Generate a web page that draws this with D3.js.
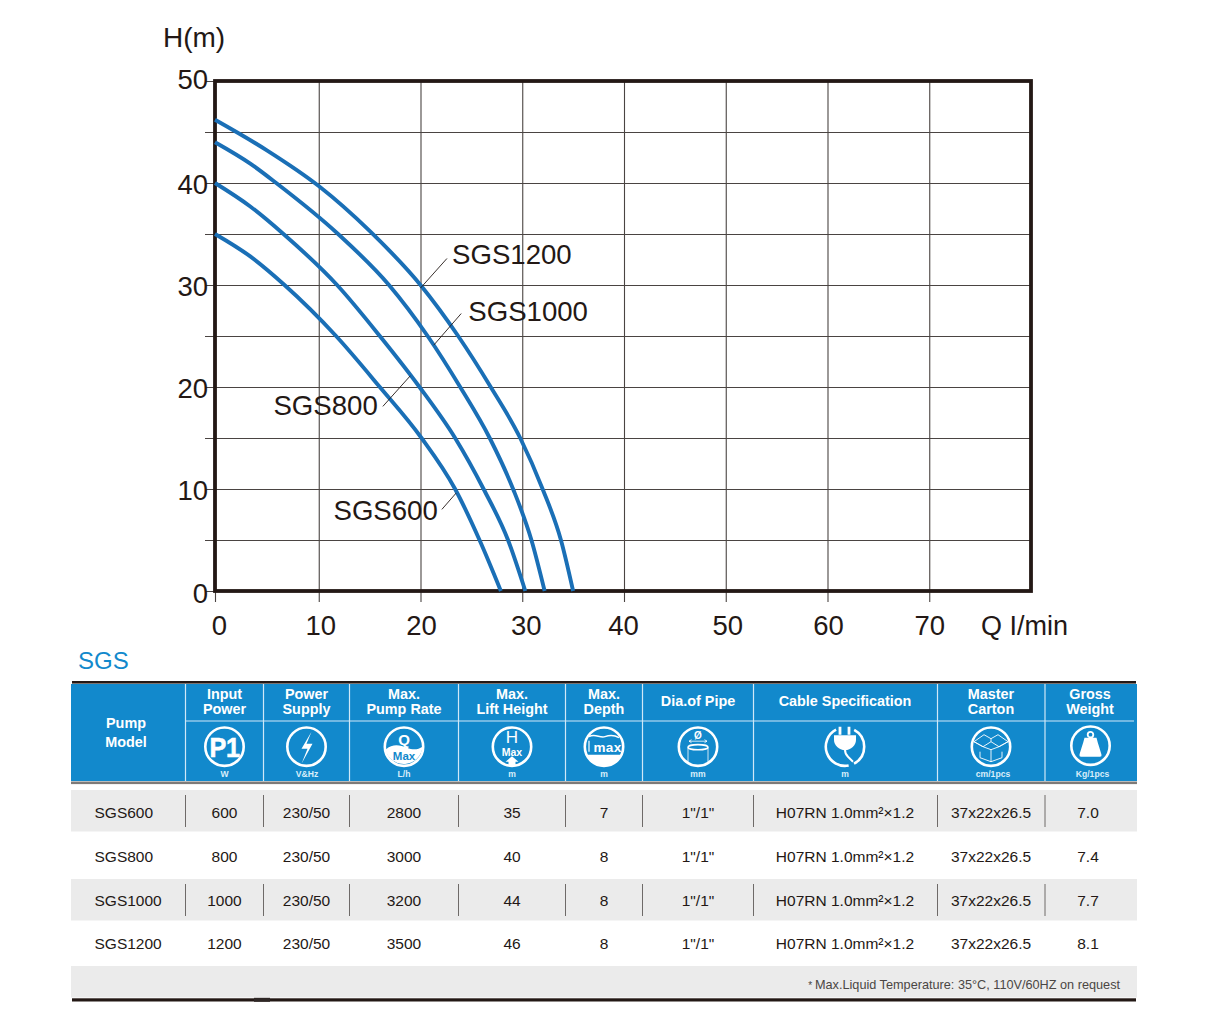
<!DOCTYPE html>
<html>
<head>
<meta charset="utf-8">
<script src="https://cdn.jsdelivr.net/npm/d3@7"></script>
<style>
  html, body { margin: 0; padding: 0; background: #fff; }
  svg { display: block; font-family: "Liberation Sans", Arial, sans-serif; }
</style>
</head>
<body>
<div id="chart"></div>
<script>
// curve readings, Q in l/min and H in m
var q600 = [0, 3.4, 6.7, 11.7, 16.0, 20.1, 23.4, 25.8, 27.9];
var h600 = [35, 32.8, 30, 25, 20, 15, 10, 5, 0];
var q800 = [0, 3.4, 6.6, 11.8, 16.0, 19.9, 23.4, 26.2, 28.6, 30.3];
var h800 = [40, 37.7, 35, 30, 25, 20, 15, 10, 5, 0];
var q1000 = [0, 3.4, 5.9, 11.9, 16.9, 20.7, 23.9, 26.8, 29.1, 30.9, 32.2];
var h1000 = [44, 41.9, 40, 35, 30, 25, 20, 15, 10, 5, 0];
var q1200 = [0, 5, 10, 15, 20, 23.7, 26.9, 29.8, 32.0, 33.8, 35];
var h1200 = [46.2, 43.2, 39.7, 35.3, 30, 25, 20, 15, 10, 5, 0];

var xTicks = [0, 10, 20, 30, 40, 50, 60, 70];
var yTicks = [0, 5, 10, 15, 20, 25, 30, 35, 40, 45, 50];

// curve name labels and their leader lines, in chart units
var curveNames = ["SGS1200", "SGS1000", "SGS800", "SGS600"];
var nameQ = [23.1, 24.7, 15.8, 21.7];
var nameH = [32.1, 26.5, 17.3, 7.0];
var leaderQ = [[20.0, 22.6], [21.3, 24.0], [16.3, 19.0], [22.1, 23.5]];
var leaderH = [[29.7, 32.6], [24.1, 27.2], [18.1, 21.1], [8.0, 9.6]];

// table
var headers = [["Input", "Power"], ["Power", "Supply"], ["Max.", "Pump Rate"], ["Max.", "Lift Height"],
  ["Max.", "Depth"], ["Dia.of Pipe"], ["Cable Specification"], ["Master", "Carton"], ["Gross", "Weight"]];
var units = ["W", "V&Hz", "L/h", "m", "m", "mm", "m", "cm/1pcs", "Kg/1pcs"];
var models = ["SGS600", "SGS800", "SGS1000", "SGS1200"];
var inputPower = ["600", "800", "1000", "1200"];
var powerSupply = ["230/50", "230/50", "230/50", "230/50"];
var pumpRate = ["2800", "3000", "3200", "3500"];
var liftHeight = ["35", "40", "44", "46"];
var maxDepth = ["7", "8", "8", "8"];
var pipeDia = ['1"/1"', '1"/1"', '1"/1"', '1"/1"'];
var cableSpec = ["H07RN 1.0mm²×1.2", "H07RN 1.0mm²×1.2", "H07RN 1.0mm²×1.2", "H07RN 1.0mm²×1.2"];
var carton = ["37x22x26.5", "37x22x26.5", "37x22x26.5", "37x22x26.5"];
var grossWeight = ["7.0", "7.4", "7.7", "8.1"];
var footNote = "Max.Liquid Temperature: 35°C, 110V/60HZ on request";

var wide = 1209;
var high = 1026;
var ink = "#231815";
var blue = "#1289cc";
var curveBlue = "#1a6fb6";

var svg = d3.select("#chart").append("svg").attr("width", wide).attr("height", high);

// ---- chart ----
// the first division of the printed grid is a touch wider than the rest
var xScale = d3.scaleLinear().domain([0, 10, 80]).range([215, 318.75, 1031]);
var yScale = d3.scaleLinear().domain([0, 50]).range([591, 81]);

var xAxis = d3.axisBottom(xScale).tickValues(xTicks).tickSizeOuter(0).tickSizeInner(11).tickFormat(d3.format("d"));
var yAxis = d3.axisLeft(yScale).tickValues(yTicks).tickSizeOuter(0).tickSizeInner(-816)
  .tickFormat(function(d) { return d % 10 === 0 ? d : ""; });

var gx = svg.append("g").attr("class", "xAxis").attr("transform", "translate(0,591)").call(xAxis);
gx.select(".domain").remove();
gx.selectAll("line").attr("y1", -510).attr("stroke", "#4a4442").attr("stroke-width", 1.1);
var xNudge = { 0: 4, 10: 1.5, 20: 0.5, 30: 3.5, 40: -1, 50: 1.5, 60: 0.5, 70: 0 };
gx.selectAll("text")
  .attr("y", 44).attr("dy", 0)
  .attr("dx", function(d) { return xNudge[d]; })
  .attr("font-size", 27.5).attr("font-family", "Liberation Sans").attr("fill", ink);

var gy = svg.append("g").attr("class", "yAxis").attr("transform", "translate(215,0)").call(yAxis);
gy.select(".domain").remove();
gy.selectAll("line").attr("x1", -10).attr("stroke", "#4a4442").attr("stroke-width", 1.1);
gy.selectAll("text")
  .attr("x", -7).attr("dy", 0)
  .attr("y", function(d) { return d === 50 ? 7.5 : (d === 0 ? 11 : 10); })
  .attr("font-size", 27.5).attr("font-family", "Liberation Sans").attr("fill", ink);

svg.append("rect")
  .attr("x", xScale(0)).attr("y", yScale(50))
  .attr("width", xScale(80) - xScale(0)).attr("height", yScale(0) - yScale(50))
  .attr("fill", "none").attr("stroke", ink).attr("stroke-width", 3.8);

var line = d3.line()
  .x(function(d) { return xScale(d[0]); })
  .y(function(d) { return yScale(d[1]); })
  .curve(d3.curveMonotoneX);

[[q600, h600], [q800, h800], [q1000, h1000], [q1200, h1200]].forEach(function(s) {
  svg.append("path")
    .datum(d3.zip(s[0], s[1]))
    .attr("d", line)
    .attr("fill", "none")
    .attr("stroke", curveBlue)
    .attr("stroke-width", 3.9);
});

curveNames.forEach(function(name, i) {
  svg.append("line")
    .attr("x1", xScale(leaderQ[i][0])).attr("y1", yScale(leaderH[i][0]))
    .attr("x2", xScale(leaderQ[i][1])).attr("y2", yScale(leaderH[i][1]))
    .attr("stroke", ink).attr("stroke-width", 0.9);
  svg.append("text")
    .attr("x", xScale(nameQ[i])).attr("y", yScale(nameH[i]))
    .attr("text-anchor", i < 2 ? "start" : "end")
    .attr("font-size", 27.6).attr("fill", ink)
    .text(name);
});

svg.append("text").attr("x", 163).attr("y", 47).attr("font-size", 28).attr("fill", ink).text("H(m)");
svg.append("text").attr("x", 981).attr("y", 635).attr("font-size", 27).attr("fill", ink).text("Q I/min");

// ---- table ----
var colEdges = [71, 185.5, 263.5, 349.5, 458.5, 565.5, 642.5, 753.5, 937.5, 1045, 1137];
var colMid = [224.5, 306.5, 404, 512, 604, 698, 845, 991, 1090];
var unitMid = [224.5, 307, 404, 512, 604, 698, 845, 993, 1092.5];
var valueMid = [224.5, 306.5, 404, 512, 604, 698, 845, 991, 1088];
var rowBase = [818.2, 861.7, 905.7, 948.7];

svg.append("text").attr("x", 78).attr("y", 668.5).attr("font-size", 24).attr("fill", blue).text("SGS");

svg.append("rect").attr("x", 72).attr("y", 681).attr("width", 1064).attr("height", 2.6).attr("fill", ink);
svg.append("rect").attr("x", 71).attr("y", 684).attr("width", 1066).attr("height", 97).attr("fill", blue);
svg.append("rect").attr("x", 71).attr("y", 781.5).attr("width", 1066).attr("height", 2.6).attr("fill", "#7d7a78");

var sep = "#cfe8f7";
svg.selectAll("line.headSep").data(colEdges.slice(1, 10)).enter().append("line")
  .attr("class", "headSep")
  .attr("x1", function(d) { return d; }).attr("x2", function(d) { return d; })
  .attr("y1", 684).attr("y2", 781)
  .attr("stroke", sep).attr("stroke-width", 1.2);
svg.append("line").attr("x1", 185.5).attr("x2", 1134).attr("y1", 721).attr("y2", 721)
  .attr("stroke", sep).attr("stroke-width", 1.2);

var headText = svg.append("g").attr("fill", "#fff").attr("font-weight", "bold").attr("font-size", 14.4).attr("text-anchor", "middle");
headText.append("text").attr("x", 126).attr("y", 727.5).text("Pump");
headText.append("text").attr("x", 126).attr("y", 747).text("Model");
headers.forEach(function(lines, i) {
  lines.forEach(function(t, j) {
    headText.append("text")
      .attr("x", colMid[i])
      .attr("y", lines.length === 1 ? 706.2 : 698.6 + j * 15)
      .text(t);
  });
});

svg.append("g").selectAll("text").data(units).enter().append("text")
  .attr("x", function(d, i) { return unitMid[i]; })
  .attr("y", 776.5)
  .attr("text-anchor", "middle").attr("font-size", 8.6).attr("font-weight", "bold").attr("fill", "#d9eefa")
  .text(function(d) { return d; });

// icons, one group per column, centred on the ring
var iconY = 746.7;
function iconGroup(i) {
  return svg.append("g").attr("transform", "translate(" + colMid[i] + "," + iconY + ")")
    .attr("fill", "#fff").attr("text-anchor", "middle");
}
function ring(g) {
  g.append("circle").attr("r", 19.2).attr("fill", "none").attr("stroke", "#fff").attr("stroke-width", 2.6);
}

var ic = iconGroup(0);
ring(ic);
ic.append("text").attr("y", 10).attr("font-size", 28).attr("font-weight", "bold")
  .attr("transform", "scale(0.9,1)").attr("letter-spacing", -0.5)
  .attr("stroke", "#fff").attr("stroke-width", 0.6).text("P1");

ic = iconGroup(1);
ring(ic);
ic.append("path").attr("d", "M5,-15 L-5,2 L1,2 L-5,17 L6,-3 L0,-3 Z");

ic = iconGroup(2);
ring(ic);
ic.append("path").attr("d", "M-18.5,3 C-11,-3.5 -4,-1.5 3,1 C9,3.5 14,3 18.5,0 A18.8,18.8 0 0 1 -18.5,3 Z");
ic.append("text").attr("y", -2).attr("font-size", 15).attr("font-weight", "bold").text("Q");
ic.append("text").attr("y", 13.5).attr("font-size", 11.5).attr("font-weight", "bold").attr("fill", blue).text("Max");

ic = iconGroup(3);
ring(ic);
ic.append("text").attr("y", -3.5).attr("font-size", 17).text("H");
ic.append("text").attr("y", 9).attr("font-size", 10.5).attr("font-weight", "bold").text("Max");
ic.append("path").attr("d", "M0,9.5 L6.5,15 L3.5,15 L3.5,19 L-3.5,19 L-3.5,15 L-6.5,15 Z");

ic = iconGroup(4);
ring(ic);
ic.append("path").attr("d", "M-17,8 L17,8 A19,19 0 0 1 -17,8 Z");
ic.append("path").attr("d", "M-15,-10 C-9,-14 -4,-8 1,-10 C6,-12 10,-12 15,-9")
  .attr("fill", "none").attr("stroke", "#fff").attr("stroke-width", 1.4);
ic.append("path").attr("d", "M-15,-6 V5").attr("stroke", "#fff").attr("stroke-width", 1.2);
ic.append("text").attr("x", 3.5).attr("y", 5).attr("font-size", 13.5).attr("font-weight", "bold").attr("letter-spacing", 0.3).text("max");

ic = iconGroup(5);
ring(ic);
ic.append("text").attr("y", -7.5).attr("font-size", 10).attr("font-weight", "bold").text("Ø");
ic.append("path").attr("d", "M-9,-5.5 H9 M-9,-5.5 l2.5,-1.5 M-9,-5.5 l2.5,1.5 M9,-5.5 l-2.5,-1.5 M9,-5.5 l-2.5,1.5")
  .attr("stroke", "#fff").attr("stroke-width", 0.8).attr("fill", "none");
ic.append("ellipse").attr("cy", 0.5).attr("rx", 10).attr("ry", 2.6)
  .attr("fill", "none").attr("stroke", "#fff").attr("stroke-width", 1.6);
ic.append("path").attr("d", "M-10,1 V17 M10,1 V17").attr("stroke", "#fff").attr("stroke-width", 0.8).attr("fill", "none");

ic = iconGroup(6);
ic.append("path")
  .attr("d", d3.arc().innerRadius(17.9).outerRadius(20.5).startAngle(0.5).endAngle(2.65)());
ic.append("path")
  .attr("d", d3.arc().innerRadius(17.9).outerRadius(20.5).startAngle(2.95).endAngle(5.8)());
ic.append("path").attr("d", "M-11,-11.5 H11 V-7 C11,-1 6,3 0,3.5 C-6,3 -11,-1 -11,-7 Z");
ic.append("path").attr("d", "M-5,-12 V-20 M4,-12 V-20").attr("stroke", "#fff").attr("stroke-width", 2.8);
ic.append("path").attr("d", "M0,3 C0,7 1,8 3,10 L8,15").attr("fill", "none").attr("stroke", "#fff").attr("stroke-width", 2);

ic = iconGroup(7);
ring(ic);
ic.append("path")
  .attr("d", "M-17,-5 L-7,-12 L0,-8 L7,-12 L17,-5 L8,0 L0,-5 L-8,0 Z M0,-8 L0,-5 M-17,-5 L-8,0 L0,3 L8,0 L17,-5 M-11,5 V11 L0,15 L11,11 V5 M0,3 V15")
  .attr("fill", "none").attr("stroke", "#fff").attr("stroke-width", 0.9);

ic = iconGroup(8);
ic.attr("transform", "translate(1090.5,745.7)");
ring(ic);
ic.append("circle").attr("cy", -11).attr("r", 2.8).attr("fill", "none").attr("stroke", "#fff").attr("stroke-width", 1.8);
ic.append("path").attr("d", "M-6,-8 H6 C7.5,-2 10,5 11,9 Q11.5,11 9.5,11 H-9.5 Q-11.5,11 -11,9 C-10,5 -7.5,-2 -6,-8 Z");

// body rows, every other one shaded and ruled
var bandTop = [790, 879];
svg.append("g").selectAll("rect").data(bandTop).enter().append("rect")
  .attr("x", 71).attr("y", function(d) { return d; })
  .attr("width", 1066).attr("height", 41.5).attr("fill", "#ebebeb");
svg.append("rect").attr("x", 71).attr("y", 966).attr("width", 1066).attr("height", 31.5).attr("fill", "#ebebeb");

bandTop.forEach(function(top) {
  svg.append("g").selectAll("line").data(colEdges.slice(1, 10)).enter().append("line")
    .attr("x1", function(d) { return d; }).attr("x2", function(d) { return d; })
    .attr("y1", top + 5).attr("y2", top + 37)
    .attr("stroke", "#6e6a68").attr("stroke-width", 1);
});

var columns = [inputPower, powerSupply, pumpRate, liftHeight, maxDepth, pipeDia, cableSpec, carton, grossWeight];
var body = svg.append("g").attr("font-size", 15.5).attr("fill", ink);
models.forEach(function(m, r) {
  body.append("text").attr("x", 94.5).attr("y", rowBase[r]).text(m);
  columns.forEach(function(col, c) {
    body.append("text")
      .attr("x", valueMid[c]).attr("y", rowBase[r])
      .attr("text-anchor", "middle")
      .text(col[r]);
  });
});

var foot = svg.append("text").attr("x", 1120).attr("y", 989)
  .attr("text-anchor", "end").attr("font-size", 12.7).attr("fill", "#4a4644");
foot.append("tspan").attr("font-size", 10).text("* ");
foot.append("tspan").text(footNote);

svg.append("rect").attr("x", 72).attr("y", 998.3).attr("width", 1064).attr("height", 3.2).attr("fill", ink);
svg.append("rect").attr("x", 254).attr("y", 997.8).attr("width", 16).attr("height", 4).attr("fill", "#2e2725");
</script>
</body>
</html>
